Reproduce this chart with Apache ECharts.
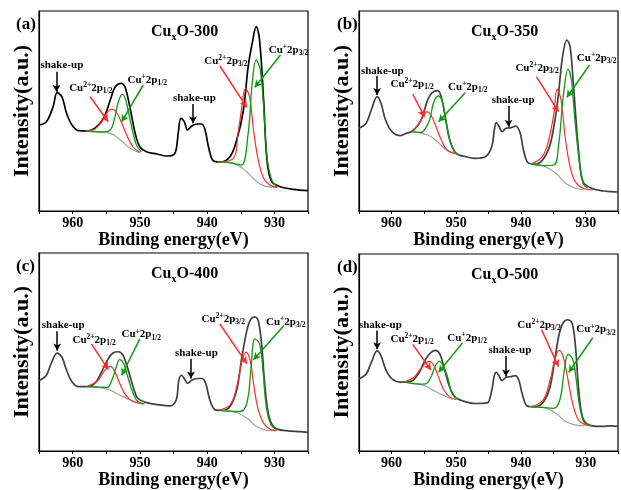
<!DOCTYPE html>
<html><head><meta charset="utf-8">
<script src="https://cdn.jsdelivr.net/npm/echarts@6/dist/echarts.min.js"></script>
<style>html,body{margin:0;padding:0;background:#fff}#c{width:621px;height:490px}</style>
</head><body><div id="c"></div>
<script>
// ---------- data (binding energy eV, intensity a.u.) ----------
const xTicks = [960, 950, 940, 930];
const panelLabels = ['(a)', '(b)', '(c)', '(d)'];
const sampleTemps = ['300', '350', '400', '500'];

const rawA = [[965,86],[963.9,89.3],[962.9,104.3],[962.3,118.3],[961.6,114.3],[960.9,97.7],[960.1,86],[959.1,80.3],[957.9,80],[956.7,82.7],[955.4,92.7],[954.4,111],[953.7,123.7],[952.8,127.7],[952.2,123.7],[951.5,104.3],[950.7,77.7],[950,64.3],[949,59.3],[947.5,57],[946,55],[944.8,57.7],[944.3,77.7],[943.9,92.7],[943.4,89.3],[942.9,81],[942.3,85],[941.5,87],[940.8,87],[940.3,81],[939.8,64.3],[939.1,50.3],[938.1,49],[936.6,54.3],[935.6,71],[934.6,101],[933.9,144.3],[933.3,167.7],[932.7,184.3],[932.2,171],[931.6,111],[931.1,51],[930.4,29.3],[929.1,24.3],[927.2,21.7],[925,20.3]];
const bgA1 = [[957.9,80],[954.4,77.7],[952.9,71],[951.5,62.7],[950,58.3]];
const bgA2 = [[938.4,49.3],[936.1,47.7],[934.1,39.3],[932.6,29.3],[931.1,24.3],[929.6,23.7]];
const cu2p12A = [[957.9,80],[956.7,82],[955.6,90],[954.8,99],[954.2,102],[953.5,99],[952.7,88],[951.9,75],[951,64],[950,58.5]];
const cu1p12A = [[957.9,80],[955.5,79],[954.4,81],[953.7,94.3],[953.2,109.3],[952.6,116.7],[952.1,111],[951.6,96],[951,77.7],[950.5,66],[949.8,59.3]];
const cu2p32A = [[938.4,49.3],[936.1,52.7],[935.4,77.7],[934.9,101],[934.3,122.7],[933.7,114.3],[933.1,81],[932.4,51],[931.6,32.7],[930.7,26],[929.6,23.7]];
const cu1p32A = [[938.4,49.3],[936.1,47.7],[934.9,46],[933.9,77.7],[933.3,127.7],[932.7,151],[932.1,141],[931.6,104.3],[931.1,54.3],[930.4,31],[929.6,24.3]];

const rawB = [[965,82.7],[963.9,87.7],[963.1,101],[962.2,114.3],[961.6,107.7],[960.9,91],[959.9,79.3],[958.6,75.3],[957.7,77.7],[956.7,80],[955.4,91],[954.4,111],[953.7,118.3],[952.9,120.3],[952.3,114.3],[951.6,91],[950.9,69.3],[950,57.7],[948.5,54.3],[947,52.7],[945.5,54.3],[944.5,64.3],[944.1,81],[943.8,88.3],[943.4,85],[942.9,79.3],[942.3,82.7],[941.5,83.3],[940.8,85],[940.1,77.7],[939.6,61],[938.8,47.7],[937.6,47],[936.3,54.3],[935.3,71],[934.3,111],[933.6,152.7],[932.9,171],[932.4,164.3],[931.9,127.7],[931.1,61],[930.4,29.3],[929.1,22.7],[927.2,20],[926,19.3],[925,19]];
const bgB1 = [[956.9,79.3],[954.4,76],[952.9,69.3],[951.5,61],[950,57]];
const bgB2 = [[938.6,47],[936.6,45.3],[934.6,37.7],[933.1,27.7],[931.6,22.7],[930.2,21]];
const cu2p12B = [[956.9,79.3],[955.9,86],[955.1,94.3],[954.5,99.3],[953.9,96],[953.1,84.3],[952.4,72.7],[951.4,61],[949.7,57]];
const cu1p12B = [[956.9,79.3],[955.5,78.5],[954.9,81],[954.1,91],[953.5,107.7],[952.8,115],[952.2,111],[951.6,91],[951,71],[950.2,59.3],[949.5,56]];
const cu2p32B = [[938.4,47],[936.7,54.3],[935.7,71],[934.9,97.7],[934.4,121.7],[933.8,111],[933.1,71],[932.4,44.3],[931.6,29.3],[930.4,22.7],[928.9,21]];
const cu1p32B = [[938.4,47],[936.6,45.3],[934.9,46],[934.2,64.3],[933.4,117.7],[932.7,141.7],[932.2,131],[931.7,94.3],[931,51],[930.4,27.7],[929.7,22.7]];

const rawC = [[965,71],[963.9,76.6],[963.2,88.3],[962.3,99],[961.6,95],[960.9,81.6],[960.1,70],[959.1,65],[957.9,65],[956.7,68.3],[955.7,80],[954.7,93.3],[954,99],[953.2,100.3],[952.5,96.6],[951.8,83.3],[951,65],[950.3,53.3],[949,49],[947,46.6],[945.5,45.6],[944.6,51.6],[944.2,71.6],[943.8,76.6],[943.4,73.3],[942.9,68.3],[942.3,71.6],[941.5,73.3],[940.8,73.3],[940.2,68.3],[939.6,51.6],[938.8,41.6],[937.8,41],[936.6,45],[935.6,61.6],[934.9,91.6],[934.1,121.6],[933.5,133.3],[932.9,135.6],[932.4,131.6],[931.9,108.3],[931.4,65],[930.8,35],[929.9,23.3],[928.2,20.6],[926.2,19.6],[925,19]];
const bgC1 = [[957.9,65],[954.9,62.6],[953,56.6],[951.2,51],[949.5,47.6]];
const bgC2 = [[938.1,41],[936.1,40],[934.1,33.3],[932.7,25],[931.2,21],[929.7,20.6]];
const cu2p12C = [[957.9,65],[956.2,71.6],[955.4,80],[954.7,85],[954.4,85.6],[953.7,80],[953,68.3],[952.1,56.6],[951,50],[949.5,47.6]];
const cu1p12C = [[957.9,65],[956,64.6],[954.9,64.3],[954.2,71],[953.5,85],[953,92.3],[952.4,88.3],[951.8,75],[951,58.3],[950.3,50],[949.3,47.6]];
const cu2p32C = [[938.4,41.3],[936.6,46.6],[935.6,65],[934.9,88.3],[934.2,100],[933.6,91.6],[933.1,68.3],[932.4,41.6],[931.6,28.3],[930.7,22.3],[929.7,20.6]];
const cu1p32C = [[938.4,41.3],[936.1,40],[935.1,40],[934.1,48.3],[933.5,81.6],[932.9,113.3],[932.2,108.3],[931.7,81.6],[931.2,45],[930.5,26.6],[929.6,21.6]];

const rawD = [[965,73.3],[963.9,78.3],[963.1,90],[962.2,101.6],[961.6,96.6],[960.9,83.3],[959.9,73.3],[958.6,70],[957.7,70],[956.7,71.6],[955.7,80],[954.7,93.3],[953.9,100],[953.2,102.3],[952.5,98.3],[951.8,83.3],[951,65],[950.2,55],[949,51],[947,48.3],[945.2,49],[944.5,61.6],[944.1,76.6],[943.8,80],[943.4,76.6],[942.9,71.6],[942.3,75],[941.5,75.6],[940.9,76.6],[940.3,71.6],[939.8,58.3],[939,45.6],[937.8,45],[936.5,50],[935.5,65],[934.8,91.6],[934.1,118.3],[933.5,130],[932.8,133.3],[932.1,130],[931.6,108.3],[931.1,65],[930.5,35],[929.5,26.6],[927.5,25],[926,25.6],[925,25]];
const bgD1 = [[958,70],[954.9,66.6],[953.5,61.6],[952,56.6],[950.5,52.3]];
const bgD2 = [[938.6,45],[936.6,44.3],[934.6,38.3],[933.1,30],[931.6,26.6],[930.2,25.6]];
const cu2p12D = [[958,70],[956.5,75],[955.5,83.3],[954.6,90],[954.1,91],[953.5,87.6],[952.8,76.6],[952,63.3],[951,55],[950,52.3]];
const cu1p12D = [[958,70],[955.6,68],[954.7,68.3],[953.9,75],[953.2,86.6],[952.6,91],[952,86.6],[951.3,75],[950.7,60],[949.7,52.3]];
const cu2p32D = [[938.4,45],[936.6,51.6],[935.5,71.6],[934.8,91.6],[934.1,102.3],[933.5,96.6],[932.8,75],[932,48.3],[931.1,31.6],[930,26.6],[929,25.6]];
const cu1p32D = [[938.4,45],[936.6,44.3],[935,43.3],[934,51.6],[933.3,81.6],[932.7,98.3],[932,93.3],[931.5,75],[931,48.3],[930.3,30],[929.5,26.6]];

// annotation anchors: [text x, text y, arrow from x, y, arrow to x, y]
const shake1 = [[961.6,146,962.4,139.3,962.4,119.3],[961.4,140.3,962.2,135,962.2,116],[961.4,127.3,962.3,121,962.3,101.6],[961.7,127.6,962.2,122.3,962.2,103.3]];
const shake2 = [[941.9,113.3,942.1,107,942.1,87.7],[941.2,111,941.9,105,941.9,84.3],[941.6,99,942.4,93.3,942.4,73.3],[941.7,102.3,942.3,96.6,942.3,75.6]];
const lab2p12 = [[957.3,122.7,957.4,114.3,954.7,89.3],[956.8,127,956.7,117,954.9,94.3],[956.8,111.6,957.2,108.3,954.7,82.3],[956.8,113.3,956.7,108.3,953.9,82.3]];
const lab1p12 = [[948.9,131,949.5,126,952.7,89.3],[948.2,123.7,948.6,118.3,952.7,89.3],[949.8,117.6,950,113.3,952.7,76.6],[948.3,114.3,949,110,952.7,80]];
const lab2p32 = [[937.2,150.3,938.1,145,934.1,103.7],[937.5,142.7,937.6,134.3,934.2,99.3],[937.6,133.3,938.1,128.3,934.1,88.3],[937.2,128.3,936.8,123.3,934.2,85.6]];
const lab1p32 = [[927.9,161,929.1,156,932.9,123.7],[928.3,152.7,929.4,146,932.9,113.7],[928.3,130.6,928.6,126.6,933.1,92.3],[928.4,123.3,928.9,115,932.6,80]];

const panels = [
  {raw: rawA, bg: [bgA1, bgA2], red: [cu2p12A, cu2p32A], green: [cu1p12A, cu1p32A]},
  {raw: rawB, bg: [bgB1, bgB2], red: [cu2p12B, cu2p32B], green: [cu1p12B, cu1p32B]},
  {raw: rawC, bg: [bgC1, bgC2], red: [cu2p12C, cu2p32C], green: [cu1p12C, cu1p32C]},
  {raw: rawD, bg: [bgD1, bgD2], red: [cu2p12D, cu2p32D], green: [cu1p12D, cu1p32D]}
];

// ---------- layout ----------
const grids = [
  {left: 39, top: 11, width: 269, height: 200},
  {left: 359, top: 11, width: 270, height: 200},
  {left: 39, top: 253, width: 269, height: 200},
  {left: 359, top: 254, width: 270, height: 199}
];
const FONT = '"Liberation Serif","Times New Roman",serif';
const RED = '#ff2b2b', GREEN = '#0f990f', GRAY = '#a0a0a0';
const rawColors = ['#000000', '#404040', '#404040', '#404040'];

const rich = {
  n: {fontSize: 11, fontWeight: 'bold', fontFamily: FONT, color: '#000', lineHeight: 14, verticalAlign: 'middle'},
  sup: {fontSize: 7.5, fontWeight: 'bold', fontFamily: FONT, color: '#000', lineHeight: 14, verticalAlign: 'top'},
  sub: {fontSize: 7.5, fontWeight: 'bold', fontFamily: FONT, color: '#000', lineHeight: 14, verticalAlign: 'bottom'}
};
const t2p12 = '{n|Cu}{sup|2+}{n|2p}{sub|1/2}';
const t1p12 = '{n|Cu}{sup|+}{n|2p}{sub|1/2}';
const t2p32 = '{n|Cu}{sup|2+}{n|2p}{sub|3/2}';
const t1p32 = '{n|Cu}{sup|+}{n|2p}{sub|3/2}';

const xAxis = [], yAxis = [], series = [], title = [];
panels.forEach((p, i) => {
  xAxis.push({
    type: 'value', gridIndex: i, min: 925, max: 965, interval: 5, inverse: true,
    axisLine: {show: true, onZero: false, lineStyle: {color: '#000', width: 1.2}},
    axisTick: {show: true, length: 3, lineStyle: {color: '#000'}},
    splitLine: {show: false},
    axisLabel: {margin: 5, fontFamily: FONT, fontWeight: 'bold', fontSize: 14, color: '#000',
      formatter: v => xTicks.indexOf(v) >= 0 ? String(v) : ''},
    name: 'Binding energy(eV)', nameLocation: 'middle', nameGap: i < 2 ? 18 : 15,
    nameTextStyle: {fontFamily: FONT, fontWeight: 'bold', fontSize: 18, color: '#000'}
  });
  yAxis.push({
    type: 'value', gridIndex: i, min: 0, max: 200,
    axisLine: {show: true, lineStyle: {color: '#000', width: 1.2}},
    axisTick: {show: false}, axisLabel: {show: false}, splitLine: {show: false},
    name: 'Intensity(a.u.)', nameLocation: 'middle', nameGap: 6, nameRotate: 90,
    nameTextStyle: {fontFamily: FONT, fontWeight: 'bold', fontSize: 22, color: '#000'}
  });
  const base = {type: 'line', xAxisIndex: i, yAxisIndex: i, showSymbol: false, symbol: 'none', silent: true, animation: false};
  series.push(Object.assign({}, base, {data: p.raw, smooth: 0.35, lineStyle: {color: rawColors[i], width: 1.7}, z: 2}));
  p.bg.forEach(d => series.push(Object.assign({}, base, {data: d, smooth: 0.4, lineStyle: {color: GRAY, width: 1.2}, z: 3})));
  p.red.forEach(d => series.push(Object.assign({}, base, {data: d, smooth: 0.4, lineStyle: {color: RED, width: 1.2}, z: 4})));
  p.green.forEach(d => series.push(Object.assign({}, base, {data: d, smooth: 0.4, lineStyle: {color: GREEN, width: 1.3}, z: 5})));

  const labels = [
    [shake1[i], '{n|shake-up}', '#000'],
    [shake2[i], '{n|shake-up}', '#000'],
    [lab2p12[i], t2p12, RED],
    [lab1p12[i], t1p12, GREEN],
    [lab2p32[i], t2p32, RED],
    [lab1p32[i], t1p32, GREEN]
  ];
  series.push(Object.assign({}, base, {
    data: [], z: 10,
    markPoint: {
      symbol: 'circle', symbolSize: 0, silent: true, animation: false,
      data: labels.map(l => ({coord: [l[0][0], l[0][1]],
        label: {show: true, position: 'inside', formatter: l[1], rich: rich}}))
    },
    markLine: {
      silent: true, animation: false, symbol: ['none', 'arrow'], symbolSize: [6, 7], precision: 3,
      label: {show: false},
      data: labels.map(l => [
        {coord: [l[0][2], l[0][3]], lineStyle: {color: l[2], width: 1.5, type: 'solid'}},
        {coord: [l[0][4], l[0][5]]}
      ])
    }
  }));

  const g = grids[i];
  title.push({
    text: '{n|Cu}{s|x}{n|O-' + sampleTemps[i] + '}',
    left: g.left + 107, top: g.top + 6,
    textStyle: {rich: {
      n: {fontSize: 16, fontWeight: 'bold', fontFamily: FONT, color: '#000', lineHeight: 20, verticalAlign: 'middle'},
      s: {fontSize: 10, fontWeight: 'bold', fontFamily: FONT, color: '#000', lineHeight: 20, verticalAlign: 'bottom'}
    }}
  });
  title.push({
    text: panelLabels[i], left: i % 2 === 0 ? 11 : 332, top: g.top + 0,
    textStyle: {fontSize: 17, fontWeight: 'bold', fontFamily: FONT, color: '#000'}
  });
});

const chart = echarts.init(document.getElementById('c'), null, {renderer: 'canvas'});
chart.setOption({
  backgroundColor: '#fff',
  animation: false,
  title: title,
  grid: grids.map(g => Object.assign({show: true, borderColor: '#000', borderWidth: 1.2, containLabel: false}, g)),
  xAxis: xAxis, yAxis: yAxis, series: series
});
</script></body></html>
